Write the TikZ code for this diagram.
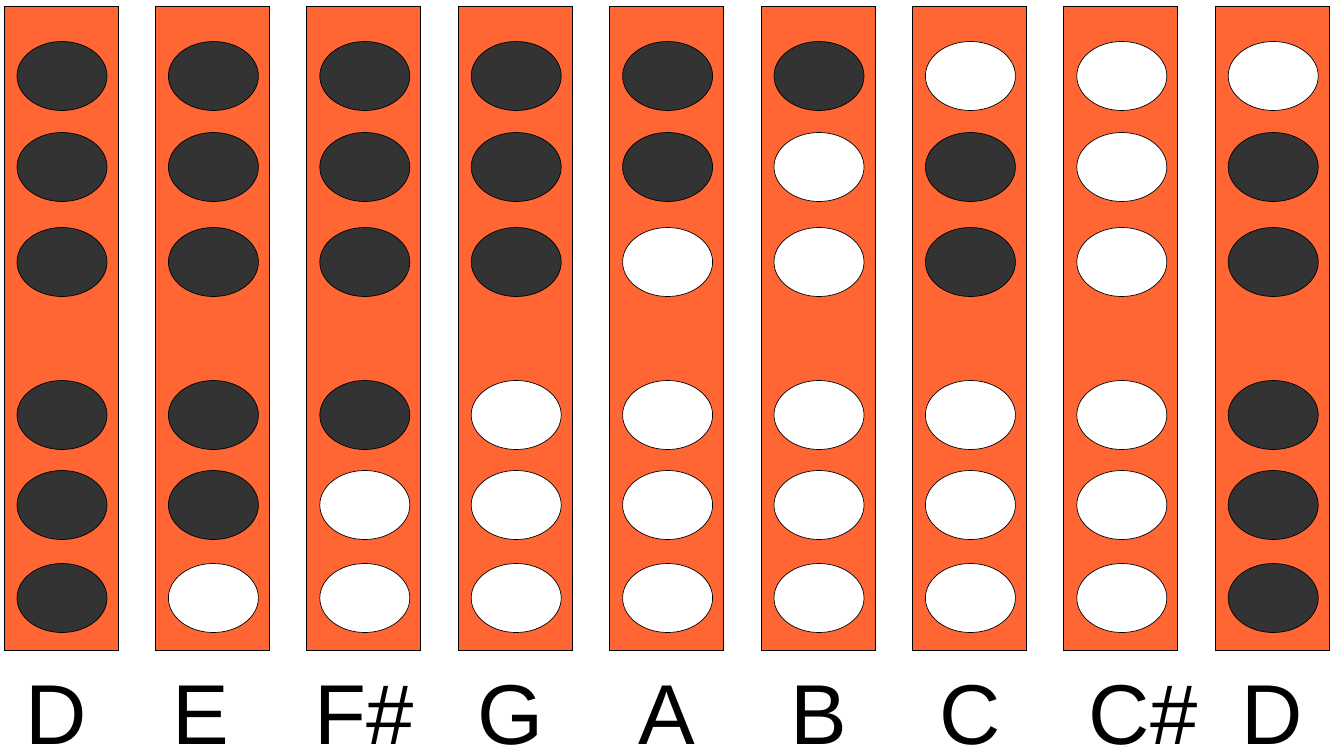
\documentclass[tikz,border=0pt]{standalone}
\usepackage{fontspec}
\setmainfont{Liberation Sans}

\definecolor{recorder}{HTML}{FF6633}
\definecolor{covered}{HTML}{333333}

\begin{document}
\begin{tikzpicture}[x=1pt, y=-1pt,
    tube/.style={fill=recorder, draw=black, line width=1pt},
    hole0/.style={fill=white, draw=black, line width=0.7pt},
    hole1/.style={fill=covered, draw=black, line width=0.7pt},
    notename/.style={anchor=base, inner sep=0pt, text depth=0pt,
        font=\fontsize{85}{85}\selectfont}]

    \useasboundingbox (0,0) rectangle (1335,751);

    % Tubes with their six holes (1 = covered, 0 = open) and note names
    \foreach \i/\name/\lx/\fing in {
        1/D/56/{1,1,1,1,1,1},
        2/E/201/{1,1,1,1,1,0},
        3/F\#/364/{1,1,1,1,0,0},
        4/G/511/{1,1,1,0,0,0},
        5/A/667/{1,1,0,0,0,0},
        6/B/819/{1,0,0,0,0,0},
        7/C/970/{0,1,1,0,0,0},
        8/C\#/1143/{0,0,0,0,0,0},
        9/D/1272/{0,1,1,1,1,1}} {
        \pgfmathsetmacro{\xl}{4+(\i-1)*151.4}
        \pgfmathsetmacro{\xc}{\xl+58}
        \draw[tube] (\xl,6.5) rectangle ++(114,643.5);
        \foreach \h [count=\r] in \fing {
            \pgfmathsetmacro{\yc}{{76,167,262,415,505,598}[\r-1]}
            \draw[hole\h] (\xc,\yc) ellipse [x radius=45pt, y radius=34.5pt];
        }
        \node[notename] (note\i) at (\lx,744) {\name};
    }

\end{tikzpicture}
\end{document}
